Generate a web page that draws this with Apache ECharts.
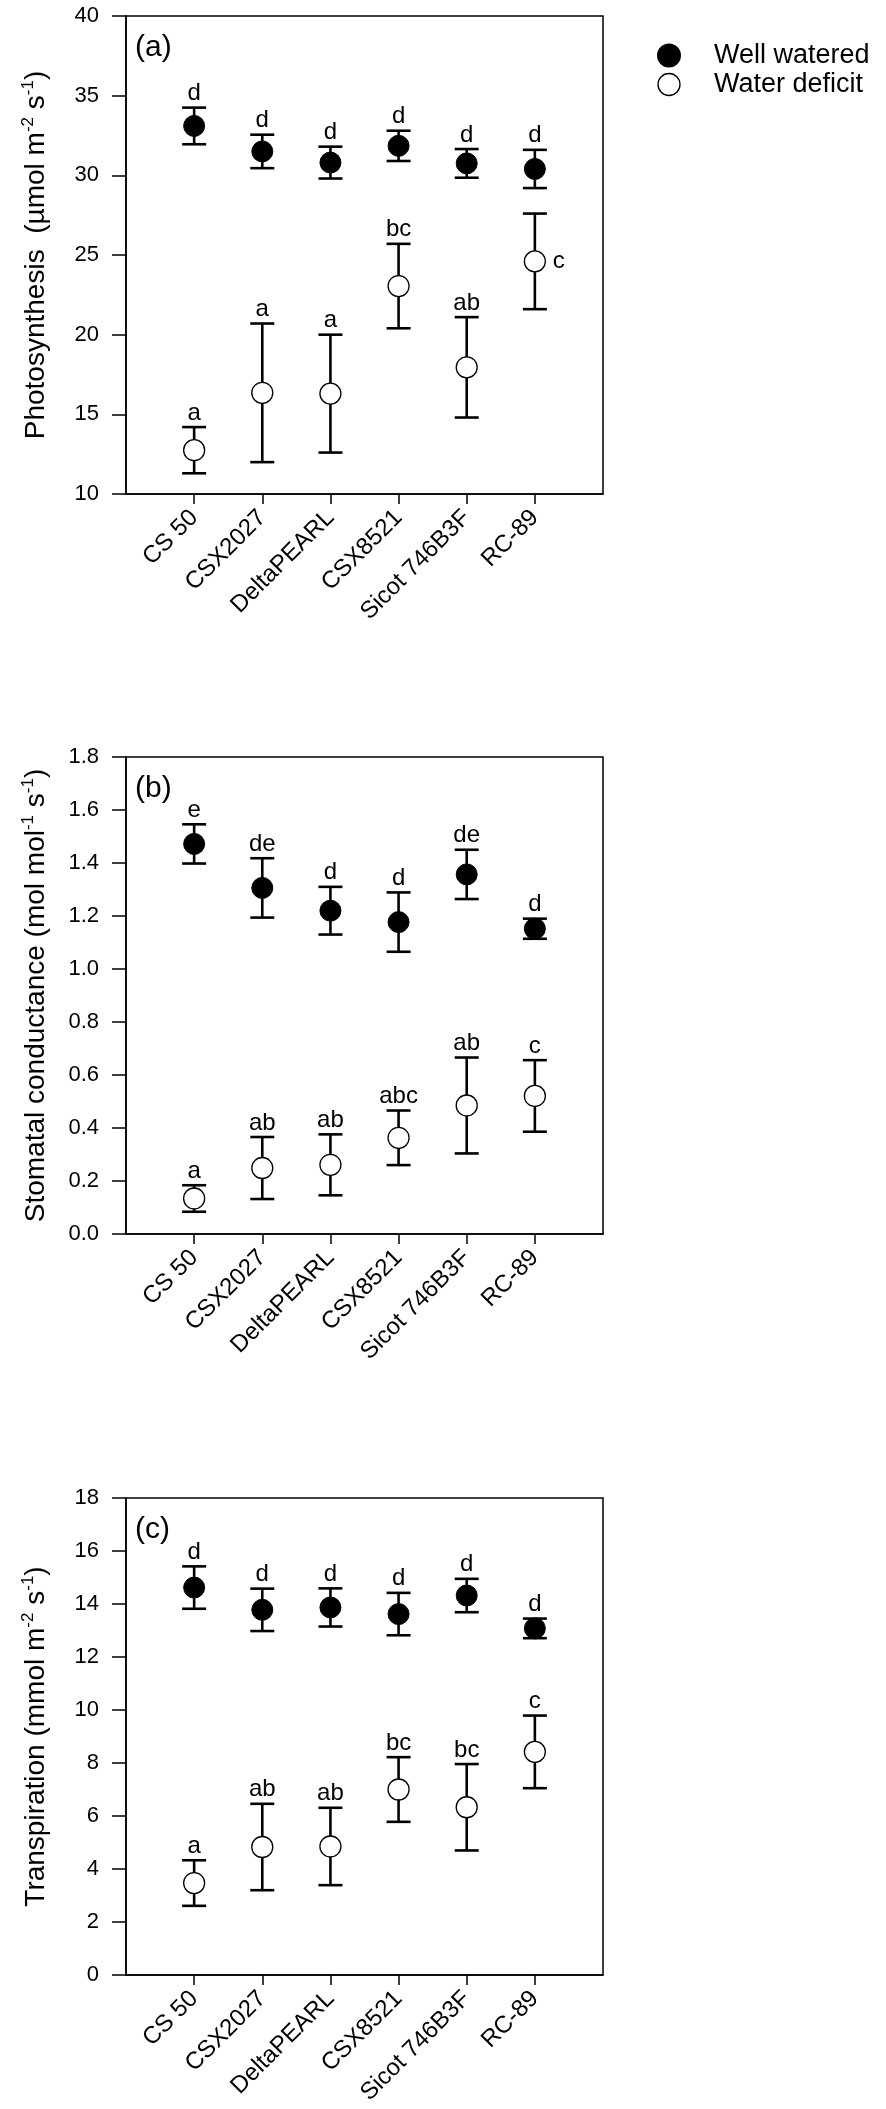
<!DOCTYPE html>
<html>
<head>
<meta charset="utf-8">
<script src="https://cdn.jsdelivr.net/npm/echarts@6/dist/echarts.min.js"></script>
<style>
html,body{margin:0;padding:0;background:#fff;}
#chart{width:886px;height:2109px;}
</style>
</head>
<body>
<div id="chart"></div>
<script>
const categories = ['CS 50', 'CSX2027', 'DeltaPEARL', 'CSX8521', 'Sicot 746B3F', 'RC-89'];
const seriesNames = ['Well watered', 'Water deficit'];

// (a) Photosynthesis
const photoWW = [33.1, 31.5, 30.8, 31.85, 30.75, 30.4];
const photoWWerr = [1.15, 1.05, 1.0, 0.95, 0.9, 1.2];
const photoWD = [12.75, 16.35, 16.3, 23.05, 17.95, 24.6];
const photoWDerr = [1.45, 4.35, 3.7, 2.65, 3.15, 3.0];
const photoWWletters = ['d', 'd', 'd', 'd', 'd', 'd'];
const photoWDletters = ['a', 'a', 'a', 'bc', 'ab', 'c'];
const photoTicks = [10, 40, 5];

// (b) Stomatal conductance
const condWW = [1.472, 1.306, 1.22, 1.177, 1.357, 1.152];
const condWWerr = [0.074, 0.112, 0.09, 0.112, 0.093, 0.038];
const condWD = [0.134, 0.249, 0.261, 0.363, 0.485, 0.521];
const condWDerr = [0.05, 0.117, 0.115, 0.103, 0.181, 0.135];
const condWWletters = ['e', 'de', 'd', 'd', 'de', 'd'];
const condWDletters = ['a', 'ab', 'ab', 'abc', 'ab', 'c'];
const condTicks = [0, 1.8, 0.2];

// (c) Transpiration
const transWW = [14.62, 13.78, 13.87, 13.62, 14.32, 13.08];
const transWWerr = [0.8, 0.8, 0.72, 0.8, 0.63, 0.37];
const transWD = [3.47, 4.83, 4.85, 7.0, 6.33, 8.42];
const transWDerr = [0.86, 1.63, 1.46, 1.22, 1.63, 1.37];
const transWWletters = ['d', 'd', 'd', 'd', 'd', 'd'];
const transWDletters = ['a', 'ab', 'ab', 'bc', 'bc', 'c'];
const transTicks = [0, 18, 2];

const panelTags = ['(a)', '(b)', '(c)'];
const FONT = '"Liberation Sans", Arial, sans-serif';

const chart = echarts.init(document.getElementById('chart'), null, {renderer: 'canvas'});

const gridTops = [16, 757, 1498];
const gridHeights = [478, 477, 477];

const panels = [
  {ww: photoWW, wwe: photoWWerr, wd: photoWD, wde: photoWDerr, wwl: photoWWletters, wdl: photoWDletters, ticks: photoTicks, dec: 0,
   name: '{m|Photosynthesis  (µmol m}{s|-2}{m| s}{s|-1}{m|)}', rightLabel: 5},
  {ww: condWW, wwe: condWWerr, wd: condWD, wde: condWDerr, wwl: condWWletters, wdl: condWDletters, ticks: condTicks, dec: 1,
   name: '{m|Stomatal conductance (mol mol}{s|-1}{m| s}{s|-1}{m|)}', rightLabel: -1},
  {ww: transWW, wwe: transWWerr, wd: transWD, wde: transWDerr, wwl: transWWletters, wdl: transWDletters, ticks: transTicks, dec: 0,
   name: '{m|Transpiration (mmol m}{s|-2}{m| s}{s|-1}{m|)}', rightLabel: -1}
];

const catIdx = categories.map((c, i) => i + 1);

function errSeries(gi, means, errs, letters, rightIdx) {
  return {
    type: 'custom',
    xAxisIndex: gi, yAxisIndex: gi,
    z: 2,
    silent: true,
    data: means.map((m, i) => [i + 1, m, errs[i]]),
    renderItem: function (params, api) {
      const x = api.value(0), m = api.value(1), e = api.value(2);
      const t = api.coord([x, m + e]);
      const b = api.coord([x, m - e]);
      const c = api.coord([x, m]);
      const hw = 12;
      const ls = {stroke: '#000', lineWidth: 2.6};
      const children = [
        {type: 'line', shape: {x1: t[0], y1: t[1], x2: b[0], y2: b[1]}, style: ls},
        {type: 'line', shape: {x1: t[0] - hw, y1: t[1], x2: t[0] + hw, y2: t[1]}, style: ls},
        {type: 'line', shape: {x1: b[0] - hw, y1: b[1], x2: b[0] + hw, y2: b[1]}, style: ls}
      ];
      const txt = letters[params.dataIndex];
      if (params.dataIndex === rightIdx) {
        children.push({type: 'text', style: {text: txt, x: c[0] + 18, y: c[1], align: 'left', verticalAlign: 'middle', fontSize: 24, fontFamily: FONT, fill: '#000'}});
      } else {
        children.push({type: 'text', style: {text: txt, x: t[0], y: t[1] - 2, align: 'center', verticalAlign: 'bottom', fontSize: 24, fontFamily: FONT, fill: '#000'}});
      }
      return {type: 'group', children: children};
    }
  };
}

const grids = [], xAxes = [], yAxes = [], series = [], graphics = [];
panels.forEach((p, gi) => {
  grids.push({left: 126, top: gridTops[gi], width: 477, height: gridHeights[gi], show: true, borderColor: '#000', borderWidth: 1.5, backgroundColor: 'transparent'});
  xAxes.push({
    type: 'value', gridIndex: gi, min: 0, max: 7, interval: 1,
    splitLine: {show: false},
    axisLine: {show: true, onZero: false, lineStyle: {color: '#000', width: 1.5}},
    axisTick: {show: true, inside: false, length: 10, lineStyle: {color: '#000', width: 1.5}, customValues: catIdx},
    axisLabel: {show: true, rotate: 45, margin: 20, fontSize: 24, fontFamily: FONT, color: '#000', customValues: catIdx,
      formatter: v => categories[Math.round(v) - 1] || ''}
  });
  yAxes.push({
    type: 'value', gridIndex: gi, min: p.ticks[0], max: p.ticks[1], interval: p.ticks[2],
    splitLine: {show: false},
    axisLine: {show: true, lineStyle: {color: '#000', width: 1.5}},
    axisTick: {show: true, inside: false, length: 14, lineStyle: {color: '#000', width: 1.5}},
    axisLabel: {margin: 27, fontSize: 22, fontFamily: FONT, color: '#000', formatter: v => Number(v).toFixed(p.dec)},
    name: p.name, nameLocation: 'middle', nameGap: 74, nameRotate: 90,
    nameTextStyle: {rich: {
      m: {fontSize: 28, fontFamily: FONT, color: '#000', lineHeight: 32},
      s: {fontSize: 17, fontFamily: FONT, color: '#000', verticalAlign: 'top', lineHeight: 17}
    }}
  });
  series.push(errSeries(gi, p.ww, p.wwe, p.wwl, -1));
  series.push(errSeries(gi, p.wd, p.wde, p.wdl, p.rightLabel));
  series.push({
    name: seriesNames[0], type: 'scatter', xAxisIndex: gi, yAxisIndex: gi, z: 3,
    symbol: 'circle', symbolSize: 21, silent: true,
    itemStyle: {color: '#000', borderColor: '#000', borderWidth: 1, opacity: 1},
    data: p.ww.map((v, i) => [i + 1, v])
  });
  series.push({
    name: seriesNames[1], type: 'scatter', xAxisIndex: gi, yAxisIndex: gi, z: 3,
    symbol: 'circle', symbolSize: 21, silent: true,
    itemStyle: {color: '#fff', borderColor: '#000', borderWidth: 1.3, opacity: 1},
    data: p.wd.map((v, i) => [i + 1, v])
  });
  graphics.push({type: 'text', left: 135, top: gridTops[gi] + 17,
    style: {text: panelTags[gi], fontSize: 30, fontFamily: FONT, fill: '#000'}});
});

chart.setOption({
  backgroundColor: '#fff',
  animation: false,
  grid: grids,
  xAxis: xAxes,
  yAxis: yAxes,
  series: series,
  graphic: graphics,
  legend: {
    data: [
      {name: seriesNames[0], icon: 'circle', itemStyle: {color: '#000', borderColor: '#000', opacity: 1}},
      {name: seriesNames[1], icon: 'circle', itemStyle: {color: '#fff', borderColor: '#000', borderWidth: 1.3, opacity: 1}}
    ],
    orient: 'vertical', left: 652, top: 37, itemWidth: 22, itemHeight: 22, itemGap: 2,
    selectedMode: false,
    textStyle: {fontSize: 27, fontFamily: FONT, color: '#000', padding: [0, 0, 0, 29]}
  }
});
</script>
</body>
</html>
